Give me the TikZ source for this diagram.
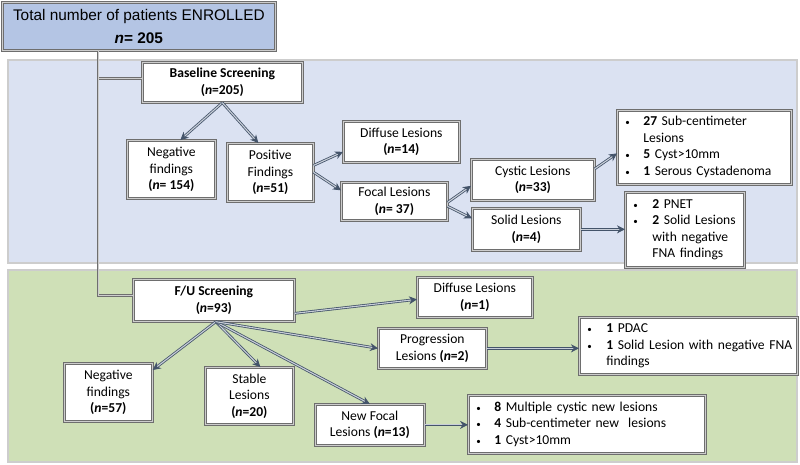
\documentclass[tikz,border=0pt]{standalone}
\usepackage{fontspec}
\setmainfont{Carlito}
\newfontfamily\arialf{Liberation Sans}
\usetikzlibrary{arrows.meta,calc}
\definecolor{topfill}{RGB}{180,197,228}
\definecolor{bluepanel}{RGB}{219,226,242}
\definecolor{greenpanel}{RGB}{207,224,183}
\definecolor{bordergray}{RGB}{110,110,110}
\definecolor{innergray}{RGB}{205,205,205}
\definecolor{arrowc}{RGB}{68,84,106}
\definecolor{arrowin}{RGB}{200,206,216}
\tikzset{
 box/.style={draw=bordergray, line width=0.7pt, double=innergray, double distance=1pt, fill=white, anchor=north west, inner sep=2pt, align=center, font=\fontsize{13.6}{16.5}\selectfont},
 listbox/.style={box, align=left, inner xsep=8pt},
 panel/.style={draw=bordergray, line width=0.8pt, double=innergray, double distance=1.2pt},
 arr/.style={draw=arrowc, line width=0.8pt, double=arrowin, double distance=1.1pt, -{Stealth[length=8pt,width=8pt]}},
 link/.style={draw=bordergray, line width=0.7pt, double=innergray, double distance=1pt},
}
\newcommand\nb[1]{\textbf{(\textit{n}#1)}}
\newcommand\bu{{\fontsize{9}{9}\selectfont •}}
\begin{document}
\begin{tikzpicture}[x=1pt,y=-1pt]
\useasboundingbox (0,0) rectangle (800,464);
% panels
\draw[panel, fill=bluepanel] (8,60) rectangle (797,263);
\draw[panel, fill=greenpanel, draw=black!80] (8,270) rectangle (797,462);
% top box
\node[box, fill=topfill, minimum width=273pt, minimum height=48pt, font=\arialf\fontsize{15.4}{23}\selectfont] (top) at (2,2) {Total number of patients ENROLLED\\\textbf{\textit{n}= 205}};
% baseline
\node[box, minimum width=160pt, minimum height=40pt] (bs) at (142,62) {\textbf{Baseline Screening}\\\nb{=205}};
\node[box, minimum width=88pt, minimum height=58pt] (neg1) at (127,140) {Negative\\findings\\\nb{= 154}};
\node[box, minimum width=86pt, minimum height=58pt] (pos1) at (227,143) {Positive\\Findings\\\nb{=51}};
\node[box, minimum width=116pt, minimum height=41pt] (dif1) at (343,121) {Diffuse Lesions\\\nb{=14}};
\node[box, minimum width=106pt, minimum height=38pt] (foc1) at (341,182) {Focal Lesions\\\nb{= 37}};
\node[box, minimum width=123pt, minimum height=41pt] (cys) at (471,159) {Cystic Lesions\\\nb{=33}};
\node[box, minimum width=108pt, minimum height=42pt] (sol) at (472,208) {Solid Lesions\\\nb{=4}};
\node[listbox, text width=158pt, minimum height=74pt] (l1) at (617,110) {\begin{tabular}{@{}p{18pt}@{}l@{}}\bu&\textbf{27} Sub-centimeter\\&Lesions\\\bu&\textbf{5} Cyst>10mm\\\bu&\textbf{1} Serous Cystadenoma\end{tabular}};
\node[listbox, text width=103pt, minimum height=75pt] (l2) at (625,192) {\begin{tabular}{@{}p{19pt}@{}l@{}}\bu&\textbf{2} PNET\\\bu&\textbf{2} Solid Lesions\\&with negative\\&FNA findings\end{tabular}};
% follow-up
\node[box, minimum width=161pt, minimum height=42pt] (fu) at (133,279) {\textbf{F/U Screening}\\\nb{=93}};
\node[box, minimum width=88pt, minimum height=58pt] (neg2) at (64,363) {Negative\\findings\\\nb{=57}};
\node[box, minimum width=88pt, minimum height=57pt] (stab) at (205,367) {Stable\\Lesions\\\nb{=20}};
\node[box, minimum width=109pt, minimum height=41pt] (nfoc) at (315,404) {New Focal\\Lesions \nb{=13}};
\node[box, minimum width=115pt, minimum height=40pt] (dif2) at (417,277) {Diffuse Lesions\\\nb{=1}};
\node[box, minimum width=108pt, minimum height=40pt] (prog) at (378,328) {Progression\\Lesions \nb{=2}};
\node[listbox, text width=202pt, minimum height=57pt] (l3) at (579,317) {\begin{tabular}{@{}p{19pt}@{}l@{}}\bu&\textbf{1} PDAC\\\bu&\textbf{1} Solid Lesion with negative FNA\\&findings\end{tabular}};
\node[listbox, text width=221pt, minimum height=58pt] (l4) at (468,395) {\begin{tabular}{@{}p{18pt}@{}l@{}}\bu&\textbf{8} Multiple cystic new lesions\\\bu&\textbf{4} Sub-centimeter new\ \ lesions\\\bu&\textbf{1} Cyst>10mm\end{tabular}};
% links from top box
\draw[link] ([xshift=96pt]top.south west) |- ([yshift=4pt]bs.west);
\draw[link] ([xshift=96pt]top.south west) |- ([yshift=5pt]fu.west);
% baseline arrows
\draw[arr] (bs.south) -- ([xshift=9pt]neg1.north);
\draw[arr] (bs.south) -- ([xshift=-12pt]pos1.north);
\draw[arr] ([yshift=7pt]pos1.east) -- ([yshift=-10pt]dif1.west);
\draw[arr] (pos1.east) -- ([yshift=11pt]foc1.west);
\draw[arr] ([yshift=-1pt]foc1.east) -- ([yshift=-6pt]cys.west);
\draw[arr] ([yshift=-5pt]foc1.east) -- ([yshift=11pt]sol.west);
\draw[arr] ([yshift=11pt]cys.east) -- ([yshift=-6pt]l1.west);
\draw[arr] (sol.east) -- (sol.east -| l2.west);
% follow-up arrows
\draw[arr] ([xshift=2pt]fu.south) -- ([yshift=-7pt]neg2.north east);
\draw[arr] ([xshift=2pt]fu.south) -- ([xshift=11pt]stab.north);
\draw[arr] ([xshift=2pt]fu.south) -- (nfoc.north);
\draw[arr] ([xshift=2pt]fu.south) -- (prog.west);
\draw[arr] ([yshift=-13pt]fu.east) -- ([yshift=-2pt]dif2.west);
\draw[arr] (prog.east) -- (prog.east -| l3.west);
\draw[arr] (nfoc.east) -- (nfoc.east -| l4.west);
\end{tikzpicture}
\end{document}
